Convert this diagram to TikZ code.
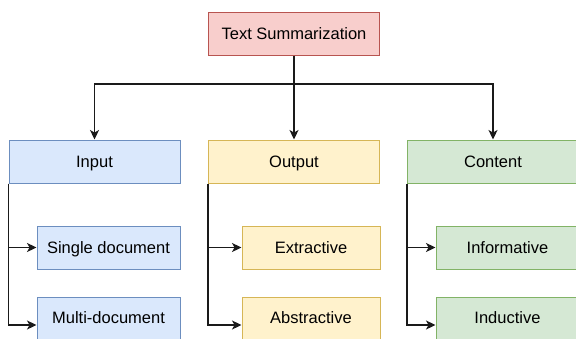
\documentclass[tikz,border=0pt]{standalone}
\usepackage{fontspec}
\setmainfont{Liberation Sans}
\usetikzlibrary{arrows.meta}
\definecolor{redfill}{HTML}{F8CECC}\definecolor{redline}{HTML}{B85450}
\definecolor{bluefill}{HTML}{DAE8FC}\definecolor{blueline}{HTML}{6C8EBF}
\definecolor{yelfill}{HTML}{FFF2CC}\definecolor{yelline}{HTML}{D6B656}
\definecolor{grnfill}{HTML}{D5E8D4}\definecolor{grnline}{HTML}{82B366}
\definecolor{linkcol}{HTML}{1A1A1A}
\begin{document}
\begin{tikzpicture}[x=1pt,y=-1pt,
  txt/.style={font=\fontsize{16.5}{19}\selectfont, text height=11.8pt, text depth=0pt},
  box/.style={draw, line width=1pt, inner sep=0pt, txt},
  redbox/.style={box, fill=redfill, draw=redline},
  bluebox/.style={box, fill=bluefill, draw=blueline},
  yelbox/.style={box, fill=yelfill, draw=yelline},
  grnbox/.style={box, fill=grnfill, draw=grnline},
  main/.style={minimum width=171pt, minimum height=43pt},
  child/.style={minimum width=143pt, minimum height=43pt},
  childlow/.style={minimum width=143pt, minimum height=56pt},
  lbl/.style={txt, inner sep=0pt},
  link/.style={draw=linkcol, line width=1.3pt, -{Stealth[length=9.5pt,width=9pt,inset=2.5pt]}}
]
\useasboundingbox (0,0) rectangle (576,338);
\node[redbox, main] (ts) at (294,33.5) {Text Summarization};
\node[bluebox, main] (in) at (94.5,161.5) {Input};
\node[yelbox, main] (out) at (294,161.5) {Output};
\node[grnbox, main] (con) at (493,161.5) {Content};

\node[bluebox, child] (single) at (108.5,247.5) {Single document};
\node[bluebox, childlow] (multi) at (108.5,325) {};
\node[lbl] (multit) at (108.5,317.5) {Multi-document};
\node[yelbox, minimum width=138pt, minimum height=43pt] (ext) at (311,247.5) {Extractive};
\node[yelbox, minimum width=138pt, minimum height=56pt] (abs) at (311,325) {};
\node[lbl] (abst) at (311,317.5) {Abstractive};
\node[grnbox, child] (inf) at (507.5,247.5) {Informative};
\node[grnbox, childlow] (ind) at (507.5,325) {};
\node[lbl] (indt) at (507.5,317.5) {Inductive};

\coordinate (hub) at (294,84);
\draw[link] (ts.south) -- (hub) -| (in.north);
\draw[link] (hub) -| (con.north);
\draw[link] (hub) -- (out.north);

\draw[link] (in.south west) |- (single.west);
\draw[link] (in.south west) |- (multi.west);
\draw[link] (out.south west) |- (ext.west);
\draw[link] (out.south west) |- (abs.west);
\draw[link] (con.south west) |- (inf.west);
\draw[link] (con.south west) |- (ind.west);
\end{tikzpicture}
\end{document}
